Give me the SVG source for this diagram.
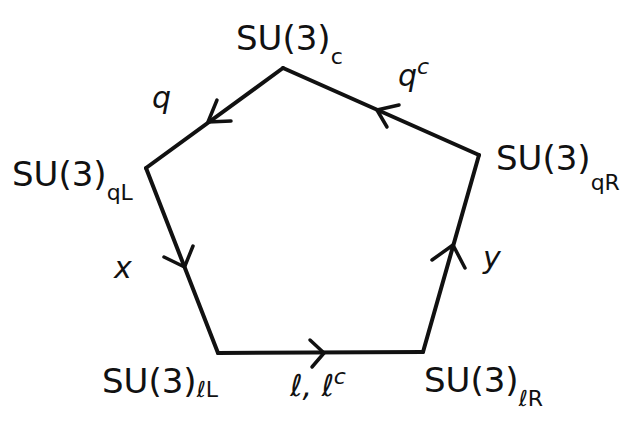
<svg xmlns="http://www.w3.org/2000/svg" width="631" height="431" viewBox="0 0 631 431">
<style>
.e{stroke:#111;stroke-width:4;fill:none;stroke-linecap:round;stroke-linejoin:round}
.a{stroke:#111;stroke-width:3.5;fill:none;stroke-linecap:round;stroke-linejoin:round}
text{font-family:"DejaVu Sans","Liberation Sans",sans-serif;fill:#111}
.n{font-size:34px}
.s{font-size:22px}
.l{font-size:30px;font-style:italic}
</style>
<rect width="631" height="431" fill="#fff"/>
<g id="connectors">
<path class="e" d="M283,68 L146,168"/>
<path class="a" d="M217,100 L208,122 L231,121"/>
<path class="e" d="M479,155 L283,68"/>
<path class="a" d="M399,105 L377,110 L387,127"/>
<path class="e" d="M146,168 L218,353"/>
<path class="a" d="M164,257 L184.5,267 L193,246"/>
<path class="e" d="M423,352 L479,155"/>
<path class="a" d="M432,260 L453,245 L465,268"/>
<path class="e" d="M218,353 L423,352"/>
<path class="a" d="M310,340 L324,353 L312,367"/>
</g>
<g id="node-c"><text class="n" x="236" y="50">SU(3)<tspan class="s" dy="14">c</tspan></text></g>
<g id="node-qL"><text class="n" x="12" y="186">SU(3)<tspan class="s" dy="14">qL</tspan></text></g>
<g id="node-qR"><text class="n" x="496" y="170">SU(3)<tspan class="s" dy="20">qR</tspan></text></g>
<g id="node-lL"><text class="n" x="102" y="393">SU(3)<tspan class="s" dy="4">ℓL</tspan></text></g>
<g id="node-lR"><text class="n" x="424" y="392">SU(3)<tspan class="s" dy="14">ℓR</tspan></text></g>
<g id="labels">
<text class="l" x="152" y="108">q</text>
<text class="l" x="398" y="86">q<tspan class="s" dy="-12">c</tspan></text>
<text class="l" x="114" y="278">x</text>
<text class="l" x="483" y="268">y</text>
<text class="l" x="290" y="396">ℓ, ℓ<tspan class="s" dy="-12">c</tspan></text>
</g>
</svg>
